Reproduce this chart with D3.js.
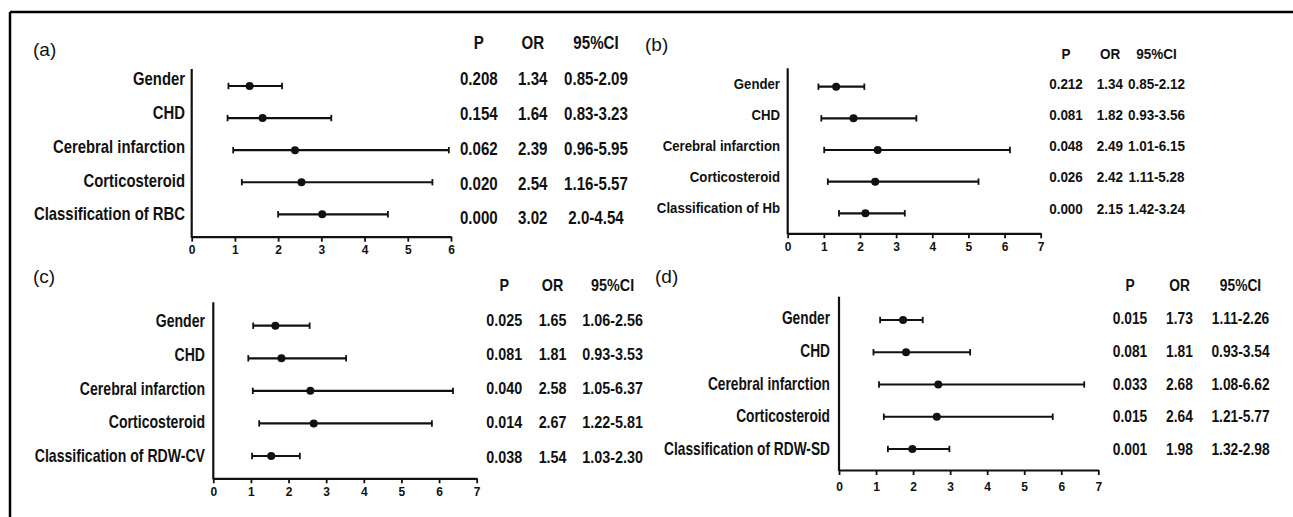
<!DOCTYPE html>
<meta charset="utf-8">
<style>
html, body { margin: 0; padding: 0; background: #fff; overflow: hidden; }
svg { display: block; }
svg text { font-family: "Liberation Sans", Arial, sans-serif; fill: #111; }
</style>
<body>
<div id="chart"></div>
<script src="https://cdnjs.cloudflare.com/ajax/libs/d3/7.8.5/d3.min.js"></script>
<script>

// ---- data ----
var headers = ["P", "OR", "95%CI"];

var catsA = ["Gender", "CHD", "Cerebral infarction", "Corticosteroid", "Classification of RBC"];
var orA   = [1.34, 1.64, 2.39, 2.54, 3.02];
var loA   = [0.85, 0.83, 0.96, 1.16, 2.0];
var hiA   = [2.09, 3.23, 5.95, 5.57, 4.54];
var pA    = ["0.208", "0.154", "0.062", "0.020", "0.000"];
var ciA   = ["0.85-2.09", "0.83-3.23", "0.96-5.95", "1.16-5.57", "2.0-4.54"];

var catsB = ["Gender", "CHD", "Cerebral infarction", "Corticosteroid", "Classification of Hb"];
var orB   = [1.34, 1.82, 2.49, 2.42, 2.15];
var loB   = [0.85, 0.93, 1.01, 1.11, 1.42];
var hiB   = [2.12, 3.56, 6.15, 5.28, 3.24];
var pB    = ["0.212", "0.081", "0.048", "0.026", "0.000"];
var ciB   = ["0.85-2.12", "0.93-3.56", "1.01-6.15", "1.11-5.28", "1.42-3.24"];

var catsC = ["Gender", "CHD", "Cerebral infarction", "Corticosteroid", "Classification of RDW-CV"];
var orC   = [1.65, 1.81, 2.58, 2.67, 1.54];
var loC   = [1.06, 0.93, 1.05, 1.22, 1.03];
var hiC   = [2.56, 3.53, 6.37, 5.81, 2.30];
var pC    = ["0.025", "0.081", "0.040", "0.014", "0.038"];
var ciC   = ["1.06-2.56", "0.93-3.53", "1.05-6.37", "1.22-5.81", "1.03-2.30"];

var catsD = ["Gender", "CHD", "Cerebral infarction", "Corticosteroid", "Classification of RDW-SD"];
var orD   = [1.73, 1.81, 2.68, 2.64, 1.98];
var loD   = [1.11, 0.93, 1.08, 1.21, 1.32];
var hiD   = [2.26, 3.54, 6.62, 5.77, 2.98];
var pD    = ["0.015", "0.081", "0.033", "0.015", "0.001"];
var ciD   = ["1.11-2.26", "0.93-3.54", "1.08-6.62", "1.21-5.77", "1.32-2.98"];

var xMaxA = 6, xMaxB = 7, xMaxC = 7, xMaxD = 7;

// ---- layout of each panel ----
var panels = [
  { tag: "(a)", tagX: 33, tagY: 49, cats: catsA, or: orA, lo: loA, hi: hiA, p: pA, ci: ciA, xMax: xMaxA,
    x0: 191.7, x1: 451, yTop: 69, yAxis: 236.7, rows: [86, 214.3], labs: [78.3, 214], labR: 185,
    labFs: 18, labSx: 0.825, tab: [78.3, 218], head: 43, cols: [478.8, 532.8, 596], tabFs: 18, tabSx: 0.84, tickPad: 4 },
  { tag: "(b)", tagX: 645, tagY: 44, cats: catsB, or: orB, lo: loB, hi: hiB, p: pB, ci: ciB, xMax: xMaxB,
    x0: 787.7, x1: 1040.7, yTop: 68.3, yAxis: 233.3, rows: [86.7, 213.3], labs: [84, 207.5], labR: 780,
    labFs: 14.5, labSx: 0.91, tab: [83.3, 208.3], head: 53.3, cols: [1066, 1110, 1156.5], tabFs: 15, tabSx: 0.9, tickPad: 4.5 },
  { tag: "(c)", tagX: 33, tagY: 276.7, cats: catsC, or: orC, lo: loC, hi: hiC, p: pC, ci: ciC, xMax: xMaxC,
    x0: 213.3, x1: 476.7, yTop: 302.3, yAxis: 478.3, rows: [325.7, 456], labs: [320.7, 455.7], labR: 205,
    labFs: 17.5, labSx: 0.805, tab: [320, 456.7], head: 285, cols: [504.2, 552.6, 612.6], tabFs: 16.3, tabSx: 0.88, tickPad: 4 },
  { tag: "(d)", tagX: 655, tagY: 276.7, cats: catsD, or: orD, lo: loD, hi: hiD, p: pD, ci: ciD, xMax: xMaxD,
    x0: 839, x1: 1098.3, yTop: 296.7, yAxis: 470, rows: [320, 449], labs: [318, 448.7], labR: 830,
    labFs: 17.5, labSx: 0.785, tab: [318.3, 449], head: 285, cols: [1130, 1179.5, 1240.5], tabFs: 17, tabSx: 0.81, tickPad: 7 }
];

var W = 1293, H = 517;
var svg = d3.select("#chart").append("svg")
  .attr("width", W)
  .attr("height", H);

// frame (only top and left edges are visible in the figure)
svg.append("line").attr("x1", 10).attr("y1", 12).attr("x2", W).attr("y2", 12)
  .attr("stroke", "#000").attr("stroke-width", 2.5);
svg.append("line").attr("x1", 10).attr("y1", 12).attr("x2", 10).attr("y2", H)
  .attr("stroke", "#000").attr("stroke-width", 2.5);

// condensed text: squeeze horizontally around its anchor
function squeezed(g, x, y, str, fs, sx, anchor) {
  return g.append("text")
    .attr("transform", "translate(" + x + "," + y + ") scale(" + sx + ",1)")
    .attr("dy", "0.36em")
    .attr("text-anchor", anchor)
    .style("font-size", fs + "px")
    .style("font-weight", "bold")
    .text(str);
}

panels.forEach(function(pn) {
  var g = svg.append("g");

  var x = d3.scaleLinear().domain([0, pn.xMax]).range([pn.x0, pn.x1]);
  var y = d3.scalePoint().domain(pn.cats).range(pn.rows);
  var yl = d3.scalePoint().domain(pn.cats).range(pn.labs);
  var yt = d3.scalePoint().domain(pn.cats).range(pn.tab);

  // panel tag
  g.append("text")
    .attr("x", pn.tagX).attr("y", pn.tagY)
    .attr("dy", "0.35em")
    .style("font-size", "19px")
    .text(pn.tag);

  // x axis
  var ax = g.append("g")
    .attr("transform", "translate(0," + pn.yAxis + ")")
    .call(d3.axisBottom(x).ticks(pn.xMax).tickSize(5).tickSizeOuter(0).tickPadding(pn.tickPad));
  ax.select(".domain").attr("stroke", "#111").attr("stroke-width", 2.2);
  ax.selectAll(".tick line").attr("stroke", "#111").attr("stroke-width", 1.8);
  ax.selectAll(".tick text")
    .style("font-size", "12px")
    .style("font-weight", "bold")
    .style("font-family", "'Liberation Sans', Arial, sans-serif")
    .attr("fill", "#111");

  // y axis line
  g.append("line")
    .attr("x1", x(0)).attr("x2", x(0))
    .attr("y1", pn.yTop).attr("y2", pn.yAxis + 1)
    .attr("stroke", "#111").attr("stroke-width", 2.2);

  var rows = pn.cats.map(function(c, i) {
    return { cat: c, or: pn.or[i], lo: pn.lo[i], hi: pn.hi[i], p: pn.p[i], ci: pn.ci[i] };
  });

  // category labels
  rows.forEach(function(d) {
    squeezed(g, pn.labR, yl(d.cat), d.cat, pn.labFs, pn.labSx, "end");
  });

  // error bars
  var bars = g.selectAll(".bar").data(rows).enter().append("g").attr("class", "bar");
  bars.append("line")
    .attr("x1", function(d) { return x(d.lo); })
    .attr("x2", function(d) { return x(d.hi); })
    .attr("y1", function(d) { return y(d.cat); })
    .attr("y2", function(d) { return y(d.cat); })
    .attr("stroke", "#111").attr("stroke-width", 2.2);
  bars.append("line")
    .attr("x1", function(d) { return x(d.lo); })
    .attr("x2", function(d) { return x(d.lo); })
    .attr("y1", function(d) { return y(d.cat) - 3.2; })
    .attr("y2", function(d) { return y(d.cat) + 3.2; })
    .attr("stroke", "#111").attr("stroke-width", 1.8);
  bars.append("line")
    .attr("x1", function(d) { return x(d.hi); })
    .attr("x2", function(d) { return x(d.hi); })
    .attr("y1", function(d) { return y(d.cat) - 3.2; })
    .attr("y2", function(d) { return y(d.cat) + 3.2; })
    .attr("stroke", "#111").attr("stroke-width", 1.8);
  bars.append("circle")
    .attr("cx", function(d) { return x(d.or); })
    .attr("cy", function(d) { return y(d.cat); })
    .attr("r", 4)
    .attr("fill", "#111");

  // table
  headers.forEach(function(h, j) {
    squeezed(g, pn.cols[j], pn.head, h, pn.tabFs, pn.tabSx, "middle");
  });
  rows.forEach(function(d) {
    squeezed(g, pn.cols[0], yt(d.cat), d.p, pn.tabFs, pn.tabSx, "middle");
    squeezed(g, pn.cols[1], yt(d.cat), d3.format(".2f")(d.or), pn.tabFs, pn.tabSx, "middle");
    squeezed(g, pn.cols[2], yt(d.cat), d.ci, pn.tabFs, pn.tabSx, "middle");
  });
});

</script>
</body>
